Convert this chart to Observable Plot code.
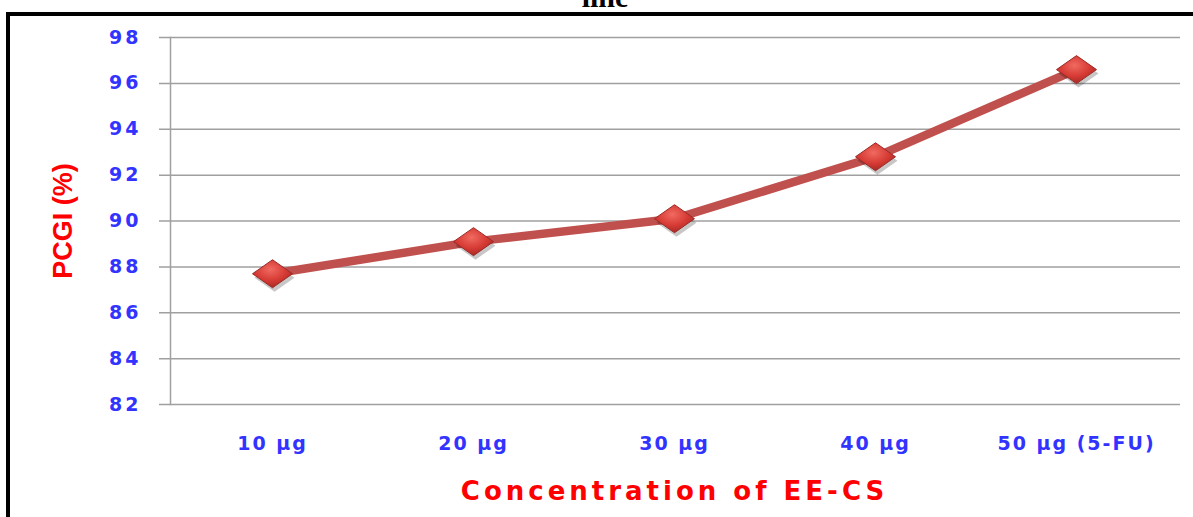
<!DOCTYPE html>
<html><head><meta charset="utf-8">
<script src="https://cdn.jsdelivr.net/npm/d3@7"></script>
<script src="https://cdn.jsdelivr.net/npm/@observablehq/plot@0.6"></script>
<style>
body{margin:0;background:#fff;overflow:hidden}
#wrap{position:relative;width:1193px;height:517px;overflow:hidden}
#chart{position:absolute;left:0;top:0}
#title{position:absolute;left:0;width:1210px;top:-20px;line-height:30px;text-align:center;font:bold 30px "Liberation Serif";color:#000}
#border{position:absolute;left:6px;top:12px;right:-10px;bottom:-10px;border-top:4px solid #000;border-left:4px solid #000}
</style></head><body>
<div id="wrap"><div id="chart"></div><div id="title">line</div><div id="border"></div></div>
<script>
const categories = ["10 µg", "20 µg", "30 µg", "40 µg", "50 µg (5-FU)"];
const pcgi = [87.7, 89.1, 90.1, 92.8, 96.6];
const yTicks = [82, 84, 86, 88, 90, 92, 94, 96, 98];
const xTitle = "Concentration of EE-CS";
const yTitle = "PCGI (%)";

const data = categories.map((c, i) => ({c, v: pcgi[i]}));
const diamond = {draw(ctx) { const w = 20, h = 14; ctx.moveTo(-w, 0); ctx.lineTo(0, -h); ctx.lineTo(w, 0); ctx.lineTo(0, h); ctx.closePath(); }};

const svg = Plot.plot({
  width: 1193, height: 517,
  marginLeft: 170, marginRight: 15, marginTop: 37, marginBottom: 113,
  style: {background: "transparent", overflow: "visible"},
  x: {type: "point", domain: categories, padding: 0.5, label: null},
  y: {domain: [82, 98], label: null},
  marks: [
    Plot.ruleY(yTicks, {stroke: "#a0a0a0", strokeWidth: 1.5, insetLeft: -11, insetRight: -2}),
    Plot.frame({anchor: "left", stroke: "#a0a0a0", strokeWidth: 1.5}),
    Plot.axisY({ticks: yTicks, tickSize: 0, tickPadding: 32, label: null, fill: "#3333ff", fontSize: 19, fontWeight: "bold", fontFamily: "DejaVu Sans"}),
    Plot.axisX({tickSize: 0, tickPadding: 32, label: null, fill: "#3333ff", fontSize: 19, fontWeight: "bold", fontFamily: "DejaVu Sans"}),
    Plot.line(data, {x: "c", y: "v", stroke: "#c0504d", strokeWidth: 8.5}),
    Plot.dot(data, {x: "c", y: "v", symbol: diamond, fill: "#000", fillOpacity: 0.22, dx: 2, dy: 4, stroke: "none"}),
    Plot.dot(data, {x: "c", y: "v", symbol: diamond, fill: "url(#dg)", stroke: "#9a2a27", strokeWidth: 1}),
    Plot.text([xTitle], {frameAnchor: "bottom", dy: 87, lineAnchor: "middle", fill: "#ff0000", fontSize: 26, fontWeight: "bold", fontFamily: "DejaVu Sans"}),
    Plot.text([yTitle], {frameAnchor: "left", dx: -107, rotate: -90, textAnchor: "middle", lineAnchor: "middle", fill: "#ff0000", fontSize: 27, fontWeight: "bold", fontFamily: "Liberation Sans"})
  ]
});
const s = d3.select(svg);
s.selectAll('g[aria-label="y-axis tick label"] text').attr("letter-spacing", "3px").attr("dx", "3px");
s.selectAll('g[aria-label="x-axis tick label"] text').attr("letter-spacing", "2px").attr("font-weight", "bold").attr("font-family", "DejaVu Sans").attr("font-size", 19).attr("fill", "#3333ff");
s.selectAll('text').filter(function() { return this.textContent === xTitle; }).attr("letter-spacing", "4px");
const defs = s.insert("defs", ":first-child");
const g = defs.append("radialGradient").attr("id", "dg").attr("cx", "45%").attr("cy", "35%").attr("r", "65%");
g.append("stop").attr("offset", "0%").attr("stop-color", "#f06a60");
g.append("stop").attr("offset", "60%").attr("stop-color", "#d63a34");
g.append("stop").attr("offset", "100%").attr("stop-color", "#a82a26");
document.getElementById("chart").appendChild(svg);
</script>
</body></html>
